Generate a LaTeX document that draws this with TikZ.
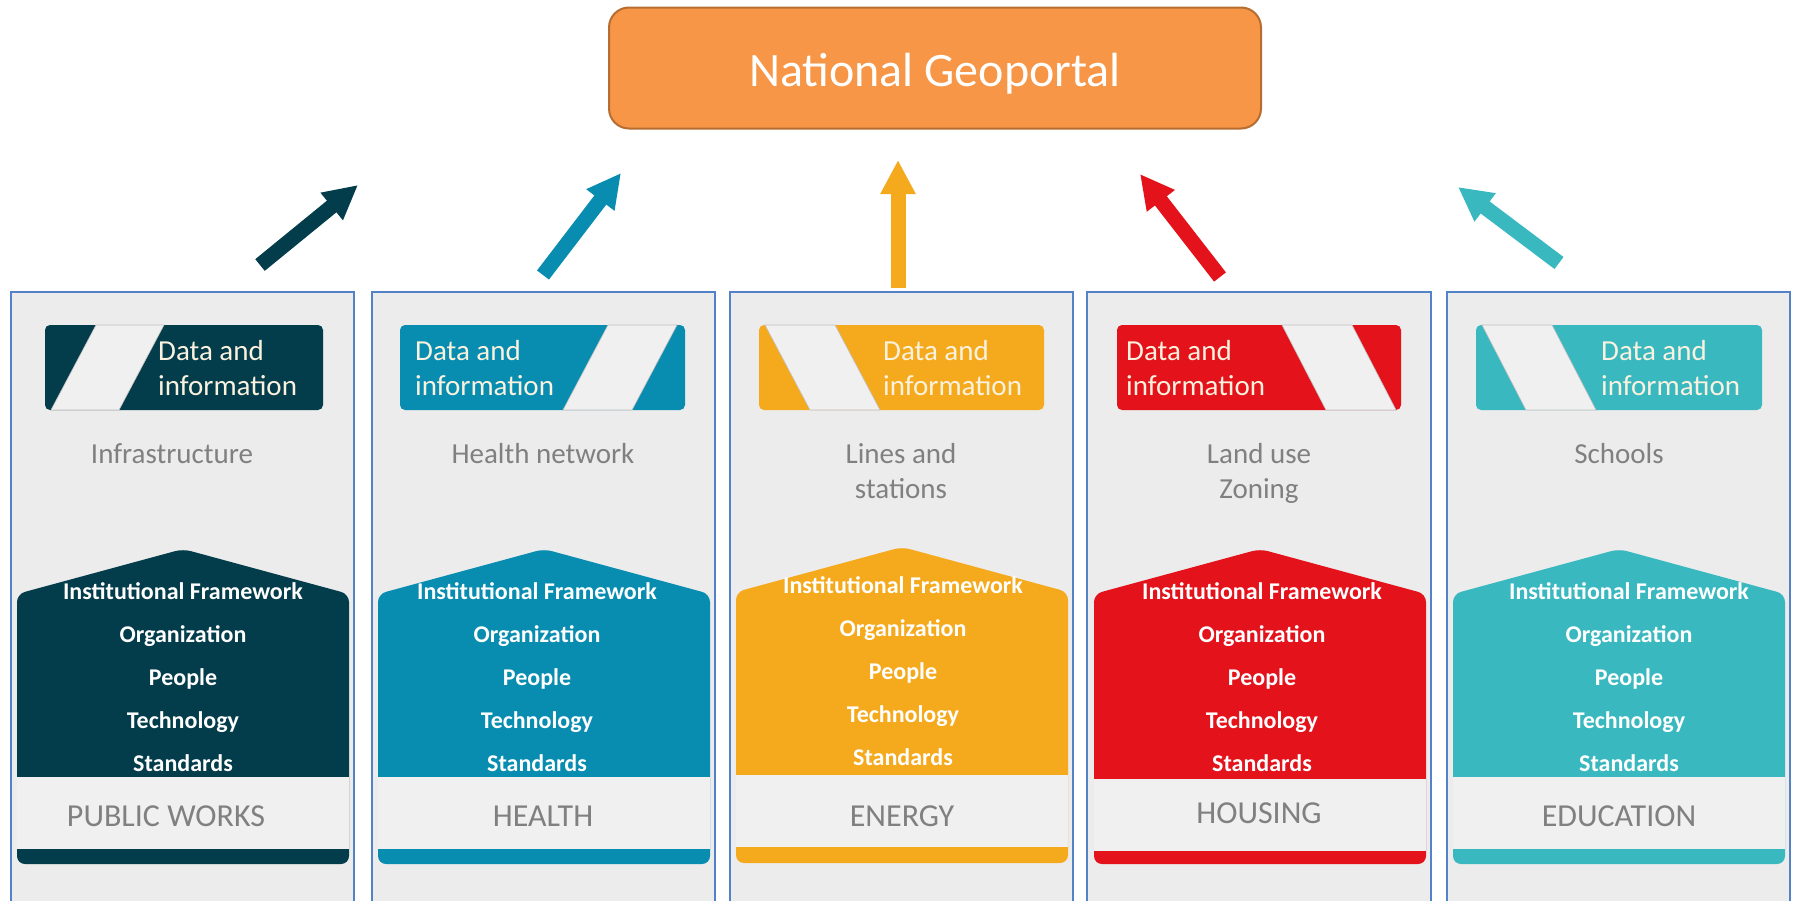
\documentclass[tikz,border=0pt]{standalone}
\usepackage{fontspec}
\setmainfont{Carlito}
\usetikzlibrary{arrows.meta}

\definecolor{pwcol}{RGB}{3,60,74}
\definecolor{hlcol}{RGB}{8,141,177}
\definecolor{encol}{RGB}{245,170,30}
\definecolor{hocol}{RGB}{227,18,27}
\definecolor{edcol}{RGB}{57,184,192}
\definecolor{portalfill}{RGB}{247,150,70}
\definecolor{portalline}{RGB}{182,109,49}
\definecolor{panelblue}{RGB}{84,130,200}
\definecolor{panelgray}{RGB}{236,236,236}
\definecolor{stripegray}{RGB}{240,240,240}
\definecolor{topicgray}{RGB}{128,128,128}
\definecolor{cream}{RGB}{250,242,222}

\tikzset{
  portal/.style={draw=portalline, line width=2pt, fill=portalfill, rounded corners=20pt,
    minimum width=652pt, minimum height=121pt, text height=36pt, text depth=0pt,
    text=white, font=\fontsize{48}{52}\selectfont},
  panel/.style={draw=panelblue, line width=1.3pt, fill=panelgray},
  databox/.style={rounded corners=5pt},
  stripe/.style={fill=stripegray, draw=black!25, line width=0.6pt},
  datatext/.style={anchor=base west, inner sep=0pt, text=cream, font=\fontsize{29}{34}\selectfont},
  topic/.style={anchor=base, inner sep=0pt, text=topicgray, font=\fontsize{29}{34}\selectfont},
  house/.style={rounded corners=8pt},
  band/.style={fill=stripegray},
  rung/.style={anchor=base, inner sep=0pt, text=white, font=\bfseries\fontsize{24}{28}\selectfont},
  sector/.style={anchor=base, inner sep=0pt, text=topicgray, font=\fontsize{32}{36}\selectfont},
  flow/.style={line width=15pt, -{Triangle[width=33pt,length=34pt]}}
}

\begin{document}
\begin{tikzpicture}[x=1pt, y=-1pt]
      \useasboundingbox (0, 0) rectangle (1793, 900);
      \fill[white] (0, 0) rectangle (1793, 900);
      \clip (0, 0) rectangle (1793, 900);

      \draw (935, 68) node[portal] (portal) {National Geoportal};

      % public works
      \draw[panel] (11, 292) rectangle (354, 905);
      \fill[databox, pwcol] (45, 325) rectangle (323, 410);
      \draw[stripe] (51, 410) -- (96, 325) -- (164, 325) -- (119, 410) -- cycle;
      \draw (158, 360) node[datatext] (pwd1) {Data and};
      \draw (158, 395) node[datatext] (pwd2) {information};
      \draw (172, 463) node[topic] (pwt1) {Infrastructure};
      \fill[house, pwcol] (17, 594) -- (183, 549) -- (349, 594) -- (349, 864) -- (17, 864) -- cycle;
      \fill[band] (17, 777) rectangle (349, 849);
      \draw (183, 599) node[rung] (pwr1) {Institutional Framework};
      \draw (183, 642) node[rung] (pwr2) {Organization};
      \draw (183, 685) node[rung] (pwr3) {People};
      \draw (183, 728) node[rung] (pwr4) {Technology};
      \draw (183, 771) node[rung] (pwr5) {Standards};
      \draw (166, 826) node[sector] (pw) {PUBLIC WORKS};

      % health
      \draw[panel] (372, 292) rectangle (715, 905);
      \fill[databox, hlcol] (400, 325) rectangle (685, 410);
      \draw[stripe] (563, 410) -- (608, 325) -- (677, 325) -- (632, 410) -- cycle;
      \draw (415, 360) node[datatext] (hld1) {Data and};
      \draw (415, 395) node[datatext] (hld2) {information};
      \draw (543, 463) node[topic] (hlt1) {Health network};
      \fill[house, hlcol] (378, 594) -- (544, 549) -- (710, 594) -- (710, 864) -- (378, 864) -- cycle;
      \fill[band] (378, 777) rectangle (710, 849);
      \draw (537, 599) node[rung] (hlr1) {Institutional Framework};
      \draw (537, 642) node[rung] (hlr2) {Organization};
      \draw (537, 685) node[rung] (hlr3) {People};
      \draw (537, 728) node[rung] (hlr4) {Technology};
      \draw (537, 771) node[rung] (hlr5) {Standards};
      \draw (543, 826) node[sector] (hl) {HEALTH};

      % energy
      \draw[panel] (730, 292) rectangle (1073, 905);
      \fill[databox, encol] (759, 325) rectangle (1044, 410);
      \draw[stripe] (765, 325) -- (835, 325) -- (880, 410) -- (810, 410) -- cycle;
      \draw (883, 360) node[datatext] (end1) {Data and};
      \draw (883, 395) node[datatext] (end2) {information};
      \draw (901, 463) node[topic] (ent1) {Lines and};
      \draw (901, 498) node[topic] (ent2) {stations};
      \fill[house, encol] (736, 592) -- (902, 547) -- (1068, 592) -- (1068, 863) -- (736, 863) -- cycle;
      \fill[band] (736, 775) rectangle (1068, 847);
      \draw (903, 593) node[rung] (enr1) {Institutional Framework};
      \draw (903, 636) node[rung] (enr2) {Organization};
      \draw (903, 679) node[rung] (enr3) {People};
      \draw (903, 722) node[rung] (enr4) {Technology};
      \draw (903, 765) node[rung] (enr5) {Standards};
      \draw (902, 826) node[sector] (en) {ENERGY};

      % housing
      \draw[panel] (1087, 292) rectangle (1431, 905);
      \fill[databox, hocol] (1117, 325) rectangle (1401, 410);
      \draw[stripe] (1282, 325) -- (1352, 325) -- (1396, 410) -- (1326, 410) -- cycle;
      \draw (1126, 360) node[datatext] (hod1) {Data and};
      \draw (1126, 395) node[datatext] (hod2) {information};
      \draw (1259, 463) node[topic] (hot1) {Land use};
      \draw (1259, 498) node[topic] (hot2) {Zoning};
      \fill[house, hocol] (1094, 594) -- (1260, 549) -- (1426, 594) -- (1426, 864) -- (1094, 864) -- cycle;
      \fill[band] (1094, 779) rectangle (1426, 851);
      \draw (1262, 599) node[rung] (hor1) {Institutional Framework};
      \draw (1262, 642) node[rung] (hor2) {Organization};
      \draw (1262, 685) node[rung] (hor3) {People};
      \draw (1262, 728) node[rung] (hor4) {Technology};
      \draw (1262, 771) node[rung] (hor5) {Standards};
      \draw (1259, 823) node[sector] (ho) {HOUSING};

      % education
      \draw[panel] (1447, 292) rectangle (1790, 905);
      \fill[databox, edcol] (1476, 325) rectangle (1762, 410);
      \draw[stripe] (1482, 325) -- (1552, 325) -- (1596, 410) -- (1526, 410) -- cycle;
      \draw (1601, 360) node[datatext] (edd1) {Data and};
      \draw (1601, 395) node[datatext] (edd2) {information};
      \draw (1619, 463) node[topic] (edt1) {Schools};
      \fill[house, edcol] (1453, 594) -- (1619, 549) -- (1785, 594) -- (1785, 864) -- (1453, 864) -- cycle;
      \fill[band] (1453, 777) rectangle (1785, 849);
      \draw (1629, 599) node[rung] (edr1) {Institutional Framework};
      \draw (1629, 642) node[rung] (edr2) {Organization};
      \draw (1629, 685) node[rung] (edr3) {People};
      \draw (1629, 728) node[rung] (edr4) {Technology};
      \draw (1629, 771) node[rung] (edr5) {Standards};
      \draw (1619, 826) node[sector] (ed) {EDUCATION};

      % arrows up to the portal
      \coordinate (pwfrom) at (260, 265);
      \coordinate (pwto) at (358, 185);
      \coordinate (hlfrom) at (543, 275);
      \coordinate (hlto) at (621, 173);
      \coordinate (enfrom) at (898, 288);
      \coordinate (ento) at (898, 160);
      \coordinate (hofrom) at (1220, 277);
      \coordinate (hoto) at (1140, 174);
      \coordinate (edfrom) at (1559, 263);
      \coordinate (edto) at (1458, 187);
      \draw[flow, pwcol] (pwfrom) -- (pwto);
      \draw[flow, hlcol] (hlfrom) -- (hlto);
      \draw[flow, encol] (enfrom) -- (ento);
      \draw[flow, hocol] (hofrom) -- (hoto);
      \draw[flow, edcol] (edfrom) -- (edto);
\end{tikzpicture}
\end{document}
